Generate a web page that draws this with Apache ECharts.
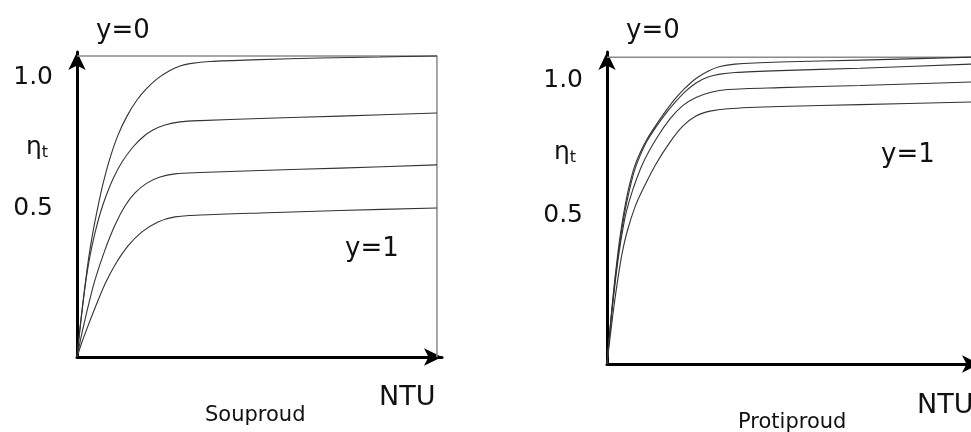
<!DOCTYPE html>
<html><head><meta charset="utf-8">
<script src="https://cdn.jsdelivr.net/npm/echarts@6/dist/echarts.min.js"></script>
<style>html,body{margin:0;padding:0;background:#fff}#c{width:971px;height:432px}</style>
</head><body><div id="c"></div>
<script>
// Souproud (co-current) curves: [NTU, eta_t]
const coY0 = [[0,-0.061],[0.083,0.049],[0.167,0.148],[0.25,0.239],[0.333,0.322],[0.444,0.413],[0.556,0.492],[0.722,0.595],[0.917,0.693],[1.139,0.780],[1.389,0.852],[1.667,0.913],[1.944,0.958],[2.25,0.996],[2.583,1.025],[2.861,1.042],[3.139,1.051],[3.694,1.059],[5.083,1.066],[6.75,1.072],[8.417,1.076],[10,1.080]];
const coY1 = [[0,-0.061],[0.083,0.045],[0.167,0.144],[0.25,0.231],[0.361,0.322],[0.5,0.409],[0.639,0.481],[0.806,0.549],[1.0,0.614],[1.25,0.678],[1.556,0.735],[1.833,0.773],[2.111,0.799],[2.444,0.818],[2.861,0.830],[3.417,0.835],[5.083,0.843],[7.306,0.852],[10,0.864]];
const coY2 = [[0,-0.061],[0.139,0.030],[0.306,0.129],[0.5,0.231],[0.778,0.345],[1.056,0.439],[1.333,0.511],[1.611,0.561],[1.944,0.598],[2.306,0.621],[2.722,0.633],[3.417,0.638],[5.083,0.646],[7.306,0.655],[10,0.667]];
const coY3 = [[0,-0.061],[0.139,-0.004],[0.306,0.057],[0.5,0.125],[0.778,0.216],[1.056,0.288],[1.417,0.360],[1.806,0.413],[2.25,0.451],[2.722,0.470],[3.417,0.477],[5.083,0.485],[7.306,0.494],[10,0.504]];
const coFrame = [[0,1.080],[10,1.080],[10,-0.061]];
// Protiproud (counter-current) curves
const ccY0 = [[0,-0.052],[0.056,0.037],[0.139,0.159],[0.222,0.267],[0.306,0.363],[0.389,0.444],[0.5,0.533],[0.611,0.604],[0.75,0.674],[0.917,0.730],[1.111,0.781],[1.361,0.833],[1.611,0.881],[1.889,0.930],[2.167,0.970],[2.472,1.006],[2.806,1.033],[3.139,1.050],[3.556,1.059],[4.806,1.067],[7.028,1.074],[10.111,1.085]];
const ccY1 = [[0,-0.052],[0.056,0.033],[0.139,0.152],[0.222,0.256],[0.306,0.348],[0.389,0.426],[0.5,0.515],[0.611,0.585],[0.75,0.659],[0.917,0.719],[1.111,0.774],[1.361,0.826],[1.611,0.872],[1.889,0.917],[2.167,0.956],[2.472,0.989],[2.806,1.011],[3.139,1.022],[3.556,1.028],[4.806,1.035],[7.028,1.044],[10.111,1.059]];
const ccY2 = [[0,-0.052],[0.056,0.030],[0.139,0.144],[0.222,0.244],[0.306,0.333],[0.417,0.430],[0.528,0.507],[0.722,0.596],[1.0,0.693],[1.361,0.781],[1.75,0.856],[2.111,0.906],[2.472,0.935],[2.861,0.954],[3.361,0.965],[4.806,0.972],[7.028,0.980],[10.111,0.993]];
const ccY3 = [[0,-0.052],[0.083,0.044],[0.194,0.163],[0.306,0.267],[0.417,0.356],[0.556,0.437],[0.778,0.530],[1.0,0.596],[1.361,0.689],[1.75,0.770],[2.111,0.830],[2.472,0.867],[2.861,0.885],[3.361,0.894],[4.806,0.902],[7.028,0.909],[10.111,0.919]];
const ccFrame = [[0,1.085],[10.4,1.085]];
const yTicks = [0.5, 1.0];
const panelTitles = ['Souproud', 'Protiproud'];

const chart = echarts.init(document.getElementById('c'));
const FONT = 'DejaVu Sans';
const axisLineStyle = {show:true, onZero:false, lineStyle:{color:'#000', width:3}, symbol:['none','arrow'], symbolSize:[13,18], symbolOffset:[0,0]};
function xAx(gi, max){return {type:'value', gridIndex:gi, min:0, max:max, axisLine:axisLineStyle, axisTick:{show:false}, axisLabel:{show:false}, splitLine:{show:false}};}
function yAx(gi, min, max){return {type:'value', gridIndex:gi, min:min, max:max, axisLine:axisLineStyle, axisTick:{show:false},
  axisLabel:{show:true, customValues:yTicks, formatter:v=>v.toFixed(1), fontFamily:FONT, fontSize:25, color:'#111', margin:24}, splitLine:{show:false}};}
function curve(data, gi){return {type:'line', xAxisIndex:gi, yAxisIndex:gi, data:data, smooth:0.3, showSymbol:false, symbol:'none', clip:false, silent:true,
  lineStyle:{color:'#333', width:1.1}};}
function frame(data, gi){return {type:'line', xAxisIndex:gi, yAxisIndex:gi, data:data, showSymbol:false, symbol:'none', clip:false, silent:true, lineStyle:{color:'#8a8a8a', width:1.5}};}
function txt(x,y,text,size){return {type:'text', left:x, top:y, style:{text:text, fontFamily:FONT, fontSize:size, fill:'#111'}};}

chart.setOption({
  animation:false,
  grid:[
    {left:77, top:52, width:365, height:305, containLabel:false, outerBoundsMode:'none'},
    {left:607, top:52, width:373, height:312, containLabel:false, outerBoundsMode:'none'}
  ],
  xAxis:[xAx(0,10.14), xAx(1,10.36)],
  yAxis:[yAx(0,-0.061,1.095), yAx(1,-0.052,1.104)],
  series:[
    frame(coFrame,0), curve(coY0,0), curve(coY1,0), curve(coY2,0), curve(coY3,0),
    frame(ccFrame,1), curve(ccY0,1), curve(ccY1,1), curve(ccY2,1), curve(ccY3,1)
  ],
  graphic:[
    txt(96,18,'y=0',26), txt(345,236,'y=1',26), txt(379,384,'NTU',27), txt(205,405,panelTitles[0],21),
    {type:'text', left:26, top:135, style:{text:'η{s|t}', rich:{s:{fontSize:16, fontFamily:FONT, padding:[10,0,0,0]}}, fontFamily:FONT, fontSize:25, fill:'#111'}},
    txt(626,18,'y=0',26), txt(881,142,'y=1',26), txt(917,392,'NTU',27), txt(738,412,panelTitles[1],21),
    {type:'text', left:554, top:140, style:{text:'η{s|t}', rich:{s:{fontSize:16, fontFamily:FONT, padding:[10,0,0,0]}}, fontFamily:FONT, fontSize:25, fill:'#111'}}
  ]
});
</script></body></html>
